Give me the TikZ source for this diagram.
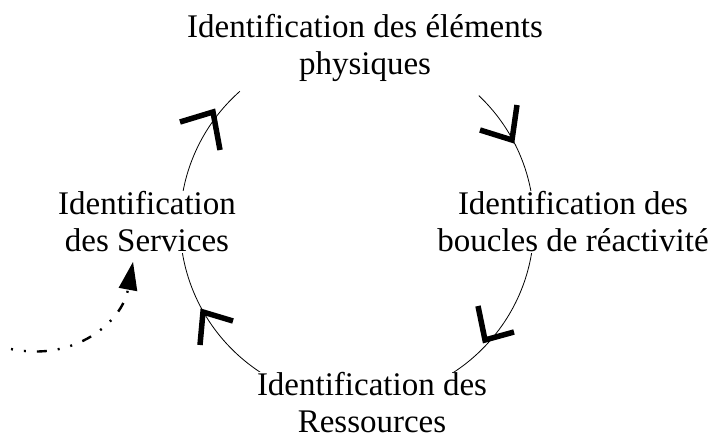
\documentclass[tikz,border=0pt]{standalone}
\usepackage{fontspec}
\setmainfont{Liberation Serif}
\usetikzlibrary{arrows.meta}
\begin{document}
\begin{tikzpicture}[x=1pt,y=-1pt,
  lbl/.style={fill=white,inner sep=1pt,align=center,font=\fontsize{33}{37}\selectfont},
  chev/.style={line width=5.5pt,line join=miter,line cap=butt},
  ring/.style={line width=0.8pt},
  flow/.style={line width=2.4pt,dash pattern=on 2pt off 11pt on 2pt off 11pt on 10pt off 11pt,
    -{Triangle[length=28pt,width=19pt,line width=0pt]}}]
\useasboundingbox (0,0) rectangle (718,439);
\coordinate (ctr) at (357,224);
% y axis points down, so angles are mirrored
\draw[ring] (ctr) ++(-46.5:177) arc[start angle=-46.5, end angle=228.6, radius=177];
\node[lbl] (phys) at (365,48) {Identification des éléments\\physiques};
\node[lbl] (boucles) at (573,222) {Identification des\\boucles de réactivité};
\node[lbl] (ress) at (372,403) {Identification des\\Ressources};
\node[lbl] (serv) at (147,222) {Identification\\des Services};
\draw[chev] (180,122) -- (213,112) -- (220,150);
\draw[chev] (480,130) -- (512,140) -- (517,105);
\draw[chev] (478,306) -- (485,340) -- (514,332);
\draw[chev] (200,345) -- (203,312) -- (233,321);
\coordinate (start) at (11,349);
\coordinate (tip) at (133,262);
\draw[flow] (start) .. controls (75,362) and (122,322) .. (tip);
\end{tikzpicture}
\end{document}
